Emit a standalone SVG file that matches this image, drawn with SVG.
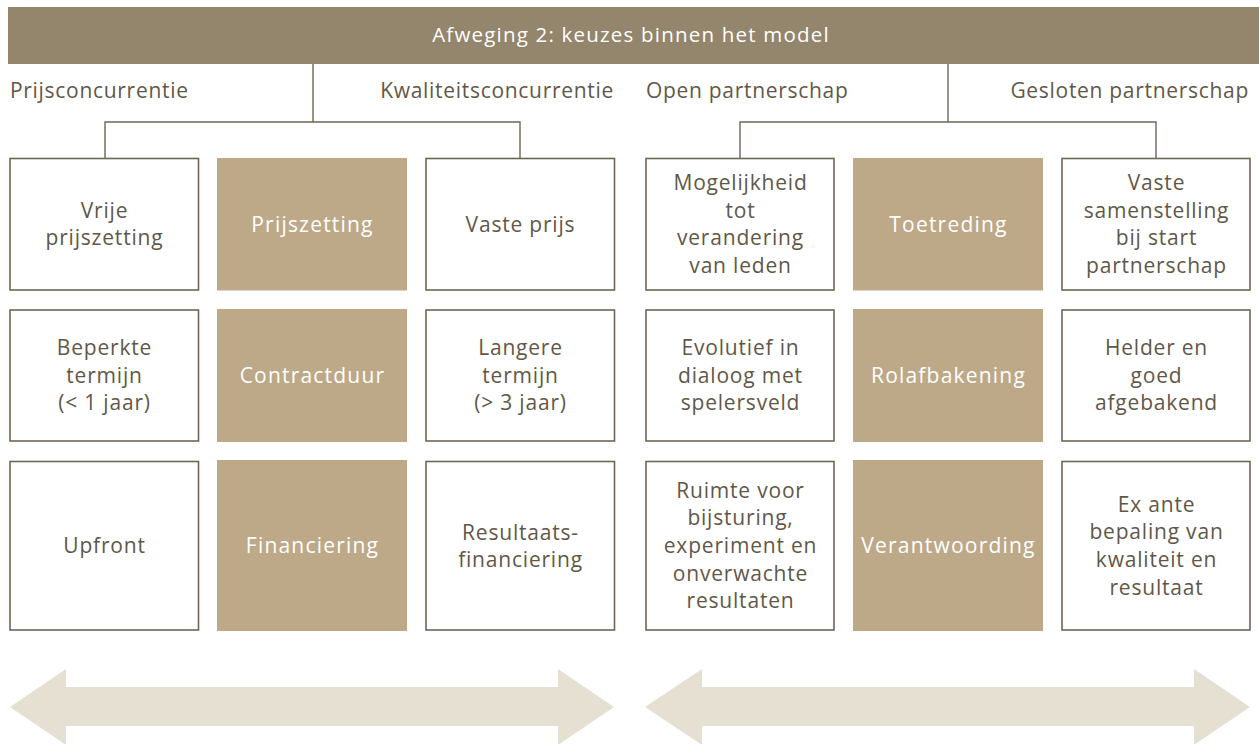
<svg xmlns="http://www.w3.org/2000/svg" width="1259" height="744" viewBox="0 0 1259 744">
<defs>
<style>
.bg{fill:#ffffff}
.hdr{fill:#93866c}
.hdrt{fill:#ffffff;font-family:"Open Sans","Liberation Sans",sans-serif;font-size:20.5px;font-weight:500;letter-spacing:1.2px;text-anchor:middle}
.sub{fill:#5f5849;font-family:"Open Sans","Liberation Sans",sans-serif;font-size:21px;letter-spacing:0.7px}
.box{fill:#ffffff;stroke:#6e6656;stroke-width:1.6}
.fill{fill:#bda988}
.t{fill:#5f5849;font-family:"Open Sans","Liberation Sans",sans-serif;font-size:21px;letter-spacing:0.8px;text-anchor:middle}
.tw{fill:#ffffff;font-family:"Open Sans","Liberation Sans",sans-serif;font-size:21px;font-weight:500;letter-spacing:1.2px;text-anchor:middle}
.conn{fill:none;stroke:#6e6656;stroke-width:1.4}
.arrow{fill:#e6e0d3}
</style>
</defs>
<rect class="bg" x="0" y="0" width="1259" height="744"/>

<g id="header">
<rect class="hdr" x="8" y="7" width="1251" height="57"/>
<text class="hdrt" x="631" y="42">Afweging 2: keuzes binnen het model</text>
</g>

<g id="subheaders">
<text class="sub" x="10" y="98">Prijsconcurrentie</text>
<text class="sub" x="614" y="98" text-anchor="end">Kwaliteitsconcurrentie</text>
<text class="sub" x="646" y="98">Open partnerschap</text>
<text class="sub" x="1249" y="98" text-anchor="end">Gesloten partnerschap</text>
</g>

<g id="connectors">
<polyline class="conn" points="313,64 313,122"/>
<polyline class="conn" points="105,158 105,122 520,122 520,158"/>
<polyline class="conn" points="948,64 948,122"/>
<polyline class="conn" points="740,158 740,122 1156,122 1156,158"/>
</g>

<g id="n-vrije-prijszetting">
<rect class="box" x="10" y="158.5" width="188.5" height="131.5"/>
<text class="t" x="104.5" y="217.5">Vrije</text>
<text class="t" x="104.5" y="245">prijszetting</text>
</g>
<g id="n-prijszetting">
<rect class="fill" x="217" y="158" width="190" height="132.5"/>
<text class="tw" x="312.5" y="231.5">Prijszetting</text>
</g>
<g id="n-vaste-prijs">
<rect class="box" x="426" y="158.5" width="188.5" height="131.5"/>
<text class="t" x="520.5" y="231.5">Vaste prijs</text>
</g>

<g id="n-beperkte-termijn">
<rect class="box" x="10" y="310" width="188.5" height="131"/>
<text class="t" x="104.5" y="355">Beperkte</text>
<text class="t" x="104.5" y="382.5">termijn</text>
<text class="t" x="104.5" y="410">(&lt; 1 jaar)</text>
</g>
<g id="n-contractduur">
<rect class="fill" x="217" y="309" width="190" height="133"/>
<text class="tw" x="312.5" y="383">Contractduur</text>
</g>
<g id="n-langere-termijn">
<rect class="box" x="426" y="310" width="188.5" height="131"/>
<text class="t" x="520.5" y="355">Langere</text>
<text class="t" x="520.5" y="382.5">termijn</text>
<text class="t" x="520.5" y="410">(&gt; 3 jaar)</text>
</g>

<g id="n-upfront">
<rect class="box" x="10" y="461.5" width="188.5" height="168.5"/>
<text class="t" x="104.5" y="553">Upfront</text>
</g>
<g id="n-financiering">
<rect class="fill" x="217" y="460" width="190" height="171"/>
<text class="tw" x="312.5" y="553">Financiering</text>
</g>
<g id="n-resultaatsfinanciering">
<rect class="box" x="426" y="461.5" width="188.5" height="168.5"/>
<text class="t" x="520.5" y="539.5">Resultaats-</text>
<text class="t" x="520.5" y="567">financiering</text>
</g>

<g id="n-mogelijkheid">
<rect class="box" x="646" y="158.5" width="188" height="131.5"/>
<text class="t" x="740.5" y="190">Mogelijkheid</text>
<text class="t" x="740.5" y="217.5">tot</text>
<text class="t" x="740.5" y="245">verandering</text>
<text class="t" x="740.5" y="272.5">van leden</text>
</g>
<g id="n-toetreding">
<rect class="fill" x="853" y="158" width="190" height="132.5"/>
<text class="tw" x="948.5" y="231.5">Toetreding</text>
</g>
<g id="n-vaste-samenstelling">
<rect class="box" x="1062" y="158.5" width="188" height="131.5"/>
<text class="t" x="1156.5" y="190">Vaste</text>
<text class="t" x="1156.5" y="217.5">samenstelling</text>
<text class="t" x="1156.5" y="245">bij start</text>
<text class="t" x="1156.5" y="272.5">partnerschap</text>
</g>

<g id="n-evolutief">
<rect class="box" x="646" y="310" width="188" height="131"/>
<text class="t" x="740.5" y="355">Evolutief in</text>
<text class="t" x="740.5" y="382.5">dialoog met</text>
<text class="t" x="740.5" y="410">spelersveld</text>
</g>
<g id="n-rolafbakening">
<rect class="fill" x="853" y="309" width="190" height="133"/>
<text class="tw" x="948.5" y="383">Rolafbakening</text>
</g>
<g id="n-helder">
<rect class="box" x="1062" y="310" width="188" height="131"/>
<text class="t" x="1156.5" y="355">Helder en</text>
<text class="t" x="1156.5" y="382.5">goed</text>
<text class="t" x="1156.5" y="410">afgebakend</text>
</g>

<g id="n-ruimte">
<rect class="box" x="646" y="461.5" width="188" height="168.5"/>
<text class="t" x="740.5" y="497.5">Ruimte voor</text>
<text class="t" x="740.5" y="525">bijsturing,</text>
<text class="t" x="740.5" y="553">experiment en</text>
<text class="t" x="740.5" y="580.5">onverwachte</text>
<text class="t" x="740.5" y="608">resultaten</text>
</g>
<g id="n-verantwoording">
<rect class="fill" x="853" y="460" width="190" height="171"/>
<text class="tw" x="948.5" y="553">Verantwoording</text>
</g>
<g id="n-ex-ante">
<rect class="box" x="1062" y="461.5" width="188" height="168.5"/>
<text class="t" x="1156.5" y="511.5">Ex ante</text>
<text class="t" x="1156.5" y="539">bepaling van</text>
<text class="t" x="1156.5" y="567">kwaliteit en</text>
<text class="t" x="1156.5" y="594.5">resultaat</text>
</g>

<g id="arrows">
<polygon class="arrow" points="10,707 66,669 66,687 558,687 558,669 614,707 558,745 558,726 66,726 66,745"/>
<polygon class="arrow" points="645,707 702,669 702,687 1194,687 1194,669 1250,707 1194,745 1194,726 702,726 702,745"/>
</g>
</svg>
